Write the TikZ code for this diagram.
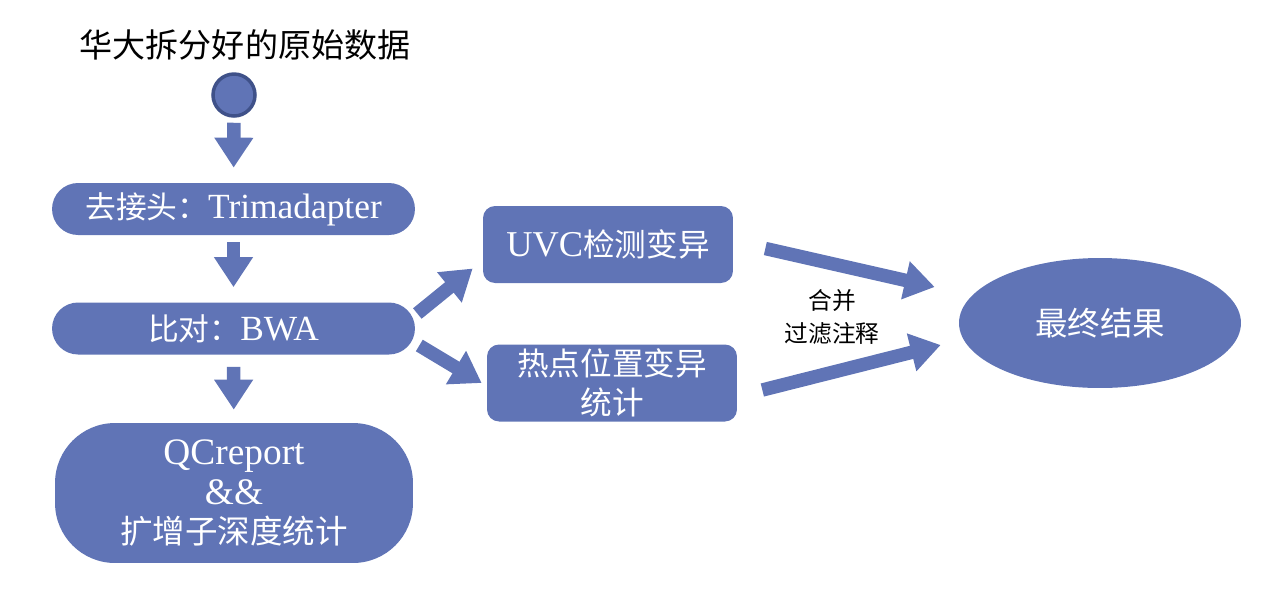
\documentclass[tikz,border=0pt]{standalone}
\usepackage{fontspec}
\setmainfont[Scale=1.15]{Liberation Serif}
\newfontfamily\cjk{Noto Sans CJK SC}
\usepackage{xcolor}
\usetikzlibrary{arrows.meta,shapes.geometric}

\definecolor{boxblue}{HTML}{6074B6}
\definecolor{rimblue}{HTML}{3F5189}

\tikzset{
	blockarrow/.style={draw=boxblue, line width=0.27cm,
		-{Triangle[length=0.6cm,width=0.74cm]}},
	stagebox/.style={fill=boxblue, text=white, inner sep=0pt,
		font=\fontsize{17.5}{22}\selectfont, align=center},
}

\begin{document}
\begin{tikzpicture}[x=0.02cm, y=-0.02cm]
		\useasboundingbox (0,0) rectangle (1265,603);
		
		% Start: raw data
		\node[font=\fontsize{18.8}{22}\selectfont\cjk] (title) at (245,45) {华大拆分好的原始数据};
		\node[circle, fill=boxblue, draw=rimblue, line width=0.07cm,
		minimum size=0.84cm, inner sep=0pt] (start) at (234,95) {};
		
		% Left column: preprocessing
		\node[stagebox, rounded corners=0.52cm, minimum width=7.26cm, minimum height=1.04cm]
		(trim) at (233.5,209) {{\cjk 去接头：}Trimadapter};
		\node[stagebox, rounded corners=0.52cm, minimum width=7.26cm, minimum height=1.04cm]
		(bwa) at (233.5,328.5) {{\cjk 比对：}BWA};
		\node[stagebox, rounded corners=1.2cm, minimum width=7.16cm, minimum height=2.8cm,
		font=\fontsize{18.5}{22.5}\selectfont]
		(qc) at (234,493) {QCreport\\\&\&\\{\cjk 扩增子深度统计}};
		
		% Middle column: variant calling
		\node[stagebox, rounded corners=0.24cm, minimum width=5cm, minimum height=1.54cm,
		font=\fontsize{18}{22}\selectfont]
		(uvc) at (608,244.5) {UVC{\cjk 检测变异}};
		\node[stagebox, rounded corners=0.24cm, minimum width=5cm, minimum height=1.54cm,
		font=\fontsize{18}{22.5}\selectfont\cjk]
		(hot) at (612,383) {热点位置变异\\统计};
		
		% Result
		\node[stagebox, ellipse, minimum width=5.64cm, minimum height=2.6cm,
		font=\fontsize{18.5}{22}\selectfont\cjk] (final) at (1100,323) {最终结果};
		\node[font=\fontsize{13.5}{18.5}\selectfont\cjk, align=center] (merge) at (832,317) {合并\\过滤注释};
		
		% Arrows down the left column
		\draw[blockarrow, shorten <=0.1cm, shorten >=0.3cm] (start) -- (trim);
		\draw[blockarrow, shorten <=0.14cm, shorten >=0.3cm] (trim) -- (bwa);
		\draw[blockarrow, shorten <=0.24cm, shorten >=0.26cm] (bwa) -- (qc);
		
		% Branches
		\draw[blockarrow] ([shift={(2,-15)}]bwa.east) -- ([shift={(-10,24)}]uvc.west);
		\draw[blockarrow] ([shift={(4,17)}]bwa.east) -- ([shift={(-5,0)}]hot.west);
		\draw[blockarrow] ([shift={(32,4)}]uvc.east) -- ([shift={(-24,-36)}]final.west);
		\draw[blockarrow] ([shift={(25,7)}]hot.east) -- ([shift={(-18,22)}]final.west);
	\end{tikzpicture}
\end{document}
